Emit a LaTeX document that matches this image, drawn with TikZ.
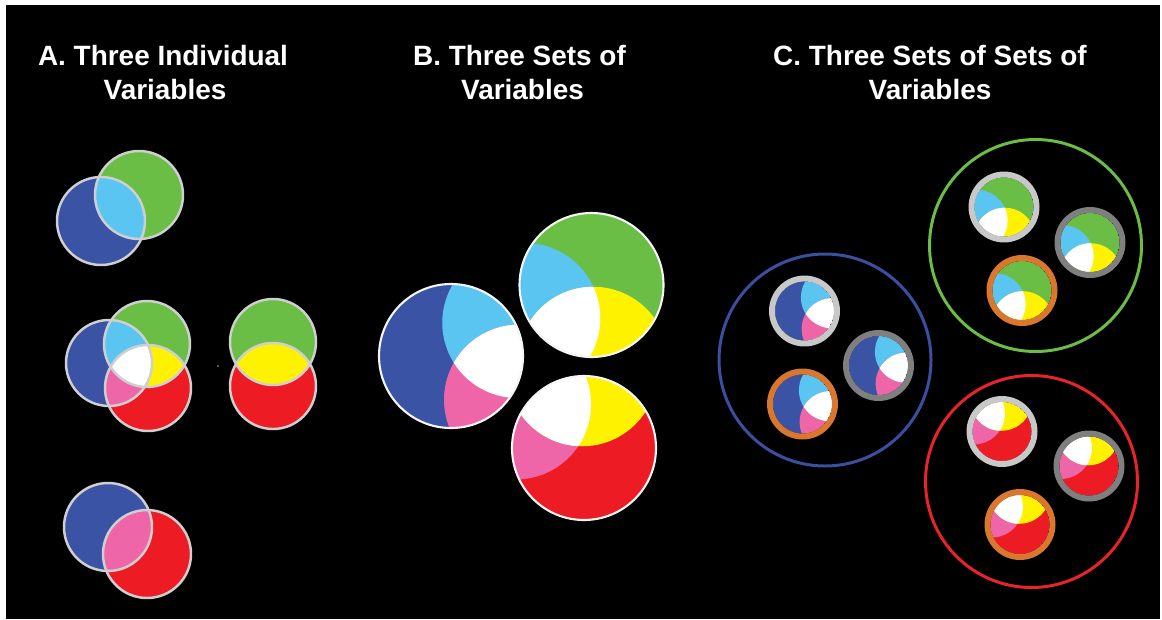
\documentclass[tikz,border=0pt]{standalone}
\usepackage{fontspec}
\setmainfont{Liberation Sans}
\definecolor{vblue}{HTML}{3A53A4}
\definecolor{vgreen}{HTML}{6ABD45}
\definecolor{vcyan}{HTML}{5BC5F1}
\definecolor{vred}{HTML}{ED1C24}
\definecolor{vyellow}{HTML}{FFF200}
\definecolor{vpink}{HTML}{EF66A8}
\definecolor{ringlight}{HTML}{C8C8C8}
\definecolor{ringdark}{HTML}{7F7F7F}
\definecolor{ringorange}{HTML}{D9772F}
\definecolor{aoutline}{HTML}{CFCFD2}
\definecolor{bigblue}{HTML}{3B4FA0}
\definecolor{biggreen}{HTML}{6CBD45}
\definecolor{bigred}{HTML}{E8232A}

\newcommand\mainr{41.14}
% blue-centred set
\newcommand\bset[3]{%
 \begin{scope}[shift={(#1,#2)},scale=#3]
 \clip (0,0) circle (\mainr);
 \fill[vblue] (0,0) circle (\mainr);
 \begin{scope}\clip (38,-19) circle (43);\fill[vcyan] (0,0) circle (\mainr);\end{scope}
 \begin{scope}\clip (39,25) circle (43);\fill[vpink] (0,0) circle (\mainr);\end{scope}
 \begin{scope}\clip (38,-19) circle (43);\clip (39,25) circle (43);\fill[white] (0,0) circle (\mainr);\end{scope}
 \end{scope}}
% green-centred set
\newcommand\gset[3]{%
 \begin{scope}[shift={(#1,#2)},scale=#3]
 \clip (0,0) circle (\mainr);
 \fill[vgreen] (0,0) circle (\mainr);
 \begin{scope}\clip (-38,19) circle (43);\fill[vcyan] (0,0) circle (\mainr);\end{scope}
 \begin{scope}\clip (1,44) circle (43);\fill[vyellow] (0,0) circle (\mainr);\end{scope}
 \begin{scope}\clip (-38,19) circle (43);\clip (1,44) circle (43);\fill[white] (0,0) circle (\mainr);\end{scope}
 \end{scope}}
% red-centred set
\newcommand\rset[3]{%
 \begin{scope}[shift={(#1,#2)},scale=#3]
 \clip (0,0) circle (\mainr);
 \fill[vred] (0,0) circle (\mainr);
 \begin{scope}\clip (-39,-25) circle (43);\fill[vpink] (0,0) circle (\mainr);\end{scope}
 \begin{scope}\clip (-1,-44) circle (43);\fill[vyellow] (0,0) circle (\mainr);\end{scope}
 \begin{scope}\clip (-39,-25) circle (43);\clip (-1,-44) circle (43);\fill[white] (0,0) circle (\mainr);\end{scope}
 \end{scope}}

\tikzset{
 title/.style={text=white, inner sep=0pt, font=\bfseries\fontsize{15.9}{19}\selectfont},
 aline/.style={draw=aoutline, line width=1.4pt},
 bline/.style={draw=white!92!gray, line width=1.2pt},
 ring/.style={line width=3.4pt},
 bigring/.style={line width=1.7pt}
}

\begin{document}
\begin{tikzpicture}[x=0.02cm,y=-0.02cm]
\useasboundingbox (0,0) rectangle (1162,619);
\fill[white] (0,0) rectangle (1162,619);
\fill[black] (6,5) rectangle (1160,619);

% ---------- titles ----------
\node[title, anchor=base] (tA1) at (163,65) {A. Three Individual};
\node[title, anchor=base] (tA2) at (165,99) {Variables};
\node[title, anchor=base] (tB1) at (519.5,65) {B. Three Sets of};
\node[title, anchor=base] (tB2) at (522.5,99) {Variables};
\node[title, anchor=base] (tC1) at (930,65) {C. Three Sets of Sets of};
\node[title, anchor=base] (tC2) at (930,99) {Variables};

% ---------- Panel A ----------
% top pair: blue + green
\fill[vblue] (101,221) circle (44);
\fill[vgreen] (139,195) circle (44);
\begin{scope}\clip (101,221) circle (44); \fill[vcyan] (139,195) circle (44);\end{scope}
\draw[aline] (101,221) circle (44);
\draw[aline] (139,195) circle (44);

% middle triple
\fill[vblue] (109,363) circle (43);
\fill[vgreen] (147,344) circle (43);
\fill[vred] (148,388) circle (43);
\begin{scope}\clip (109,363) circle (43); \fill[vcyan] (147,344) circle (43);\end{scope}
\begin{scope}\clip (109,363) circle (43); \fill[vpink] (148,388) circle (43);\end{scope}
\begin{scope}\clip (147,344) circle (43); \fill[vyellow] (148,388) circle (43);\end{scope}
\begin{scope}\clip (109,363) circle (43); \clip (147,344) circle (43); \fill[white] (148,388) circle (43);\end{scope}
\draw[aline] (109,363) circle (43);
\draw[aline] (147,344) circle (43);
\draw[aline] (148,388) circle (43);

% middle pair: green + red
\fill[vgreen] (273,342) circle (43);
\fill[vred] (273,386) circle (43);
\begin{scope}\clip (273,342) circle (43); \fill[vyellow] (273,386) circle (43);\end{scope}
\draw[aline] (273,342) circle (43);
\draw[aline] (273,386) circle (43);

\fill[gray!70] (218,366) circle (0.8);

% bottom pair: blue + red
\fill[vblue] (108,527) circle (44);
\fill[vred] (147,554) circle (44);
\begin{scope}\clip (108,527) circle (44); \fill[vpink] (147,554) circle (44);\end{scope}
\draw[aline] (108,527) circle (44);
\draw[aline] (147,554) circle (44);

% ---------- Panel B ----------
\bset{451}{356}{1.75}
\gset{591.5}{285}{1.75}
\rset{584}{448}{1.75}
\draw[bline] (451,356) circle (72);
\draw[bline] (591.5,285) circle (72);
\draw[bline] (584,448) circle (72);

% ---------- Panel C ----------
\draw[bigring, draw=bigblue] (825,360) circle (106);
\draw[bigring, draw=biggreen] (1035.5,245.5) circle (106);
\draw[bigring, draw=bigred] (1031.5,481.5) circle (106);

\bset{804.5}{311}{0.717}
\bset{878.5}{365.5}{0.717}
\bset{802.5}{404}{0.717}
\draw[ring, ringlight] (804.5,311) circle (32.5);
\draw[ring, ringdark] (878.5,365.5) circle (32.5);
\draw[ring, ringorange] (802.5,404) circle (32.5);

\gset{1004}{207}{0.717}
\gset{1090}{242.5}{0.717}
\gset{1022}{290.5}{0.717}
\draw[ring, ringlight] (1004,207) circle (32.5);
\draw[ring, ringdark] (1090,242.5) circle (32.5);
\draw[ring, ringorange] (1022,290.5) circle (32.5);

\rset{1002}{431.5}{0.717}
\rset{1089}{466}{0.717}
\rset{1020}{524.5}{0.717}
\draw[ring, ringlight] (1002,431.5) circle (32.5);
\draw[ring, ringdark] (1089,466) circle (32.5);
\draw[ring, ringorange] (1020,524.5) circle (32.5);
\end{tikzpicture}
\end{document}
